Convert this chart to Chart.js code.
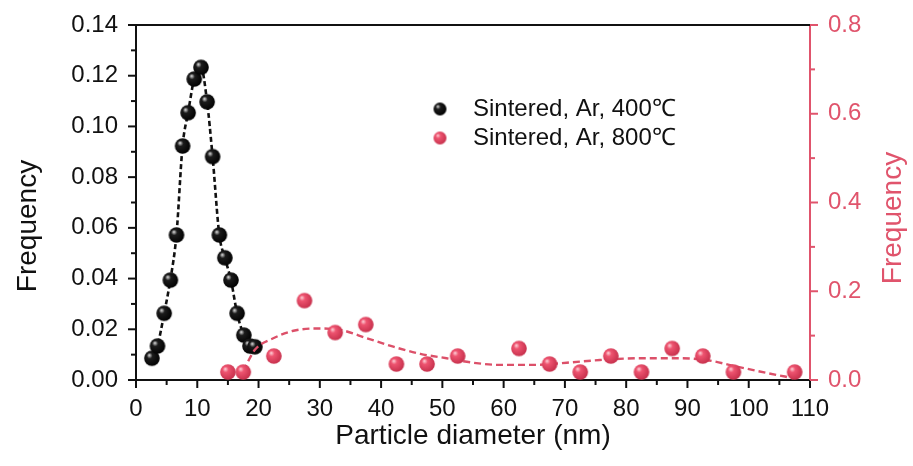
<!DOCTYPE html>
<html>
<head>
<meta charset="utf-8">
<script src="https://cdn.jsdelivr.net/npm/chart.js@4.4.0/dist/chart.umd.min.js"></script>
<style>
html, body { margin: 0; padding: 0; background: #fff; }
#wrap { width: 913px; height: 466px; position: relative; }
</style>
</head>
<body>
<div id="wrap"><canvas id="chart"></canvas></div>
<script>
// particle size distribution, sintered in Ar at 400 C (left axis)
const diam400 = [2.6, 3.5, 4.6, 5.6, 6.6, 7.6, 8.5, 9.5, 10.6, 11.6, 12.5, 13.6, 14.5, 15.5, 16.5, 17.6, 18.6, 19.4];
const freq400 = [0.0086, 0.0134, 0.0263, 0.0394, 0.0572, 0.0923, 0.1054, 0.1187, 0.1233, 0.1097, 0.0881, 0.0572, 0.0482, 0.0394, 0.0263, 0.0177, 0.0134, 0.0131];

// sintered in Ar at 800 C (right axis)
const diam800 = [15, 17.5, 22.5, 27.5, 32.5, 37.5, 42.5, 47.5, 52.5, 62.5, 67.5, 72.5, 77.5, 82.5, 87.5, 92.5, 97.5, 107.5];
const freq800 = [0.018, 0.018, 0.054, 0.179, 0.107, 0.125, 0.036, 0.036, 0.054, 0.071, 0.036, 0.018, 0.054, 0.018, 0.071, 0.054, 0.018, 0.018];

// dashed fit curve of the 800 C data
const fitDiam800 = [17.5, 19.4, 22.4, 25.7, 29.5, 33.3, 37.7, 42, 46.4, 50.7, 55, 59.4, 64.8, 70.3, 75.7, 82.3, 88.8, 93.1, 97.5, 102.9, 107.3];
const fitFreq800 = [0.02, 0.068, 0.094, 0.111, 0.116, 0.113, 0.094, 0.075, 0.059, 0.049, 0.039, 0.034, 0.034, 0.039, 0.045, 0.049, 0.049, 0.045, 0.032, 0.016, 0.004];

const seriesNames = ['Sintered, Ar, 400\u2103', 'Sintered, Ar, 800\u2103'];
const yTitle = 'Frequency';
const xTitle = 'Particle diameter (nm)';

const RED = '#e0546c';
const FONT = "'Liberation Sans', Arial, sans-serif";

// shaded ball marker
function sphere(r, light, base, dark){
    const c = document.createElement('canvas');
    const s = Math.ceil(r * 2) + 2;
    c.width = c.height = s;
    const g = c.getContext('2d');
    const m = s / 2;
    const grad = g.createRadialGradient(m - r * 0.35, m - r * 0.4, 0, m - r * 0.15, m - r * 0.15, r * 1.25);
    grad.addColorStop(0, light);
    grad.addColorStop(0.3, base);
    grad.addColorStop(1, dark);
    g.fillStyle = grad;
    g.beginPath();
    g.arc(m, m, r, 0, Math.PI * 2);
    g.fill();
    return c;
}

const ballBlack = sphere(7.8, '#e6e6e6', '#1c1c1c', '#000');
const ballRed = sphere(7.8, '#ffd6dc', '#ee5470', '#c42e4a');
const keyBlack = sphere(6.5, '#e6e6e6', '#1c1c1c', '#000');
const keyRed = sphere(6.5, '#ffd6dc', '#ee5470', '#c42e4a');

const toXY = (xs, ys) => xs.map((x, i) => ({x: x, y: ys[i]}));
const noTick = 'rgba(0,0,0,0)';

// top frame, tick marks, y titles and the inside legend
const extras = {
    id: 'extras',
    afterDraw(chart){
        const c = chart.ctx, a = chart.chartArea;
        const sx = chart.scales.x, sy = chart.scales.y, sy2 = chart.scales.y2;
        const len = i => i % 2 === 0 ? 8 : 5;
        c.save();
        c.lineWidth = 2;
        c.strokeStyle = '#111';
        c.beginPath();
        c.moveTo(a.left - 1, a.top);
        c.lineTo(a.right, a.top);
        c.stroke();

        sx.ticks.forEach((t, i) => {
            const px = sx.getPixelForValue(t.value);
            c.beginPath(); c.moveTo(px, a.bottom); c.lineTo(px, a.bottom + len(i)); c.stroke();
        });
        sy.ticks.forEach((t, i) => {
            const py = sy.getPixelForValue(t.value);
            c.beginPath(); c.moveTo(a.left, py); c.lineTo(a.left - len(i), py); c.stroke();
        });
        c.strokeStyle = RED;
        sy2.ticks.forEach((t, i) => {
            const py = sy2.getPixelForValue(t.value);
            c.beginPath(); c.moveTo(a.right, py); c.lineTo(a.right + len(i), py); c.stroke();
        });

        // axis titles (both read bottom to top)
        c.font = '28px ' + FONT;
        c.textAlign = 'center';
        c.textBaseline = 'middle';
        c.fillStyle = '#111';
        c.save(); c.translate(28, 226); c.rotate(-Math.PI / 2); c.fillText(yTitle, 0, 0); c.restore();
        c.fillStyle = RED;
        c.save(); c.translate(893, 218); c.rotate(-Math.PI / 2); c.fillText(yTitle, 0, 0); c.restore();

        // legend
        const lx = a.left + 304, ly = a.top + 84;
        c.font = '24px ' + FONT;
        c.textAlign = 'left';
        c.fillStyle = '#111';
        [keyBlack, keyRed].forEach((img, i) => {
            const y = ly + i * 29;
            c.drawImage(img, lx - img.width / 2, y - img.height / 2);
            c.fillText(seriesNames[i], lx + 33, y);
        });
        c.restore();
    }
};

new Chart(document.getElementById('chart'), {
    type: 'scatter',
    data: {
        datasets: [
            {
                label: seriesNames[1],
                data: toXY(diam800, freq800),
                yAxisID: 'y2',
                pointStyle: ballRed,
                showLine: false,
                order: 0
            },
            {
                label: 'fit 800',
                data: toXY(fitDiam800, fitFreq800),
                yAxisID: 'y2',
                showLine: true,
                pointRadius: 0,
                borderColor: '#dc5069',
                borderWidth: 2.4,
                borderDash: [7, 4],
                cubicInterpolationMode: 'monotone',
                order: 1
            },
            {
                label: seriesNames[0],
                data: toXY(diam400, freq400),
                yAxisID: 'y',
                pointStyle: ballBlack,
                showLine: true,
                borderColor: '#111',
                borderWidth: 2.6,
                borderDash: [5, 3],
                cubicInterpolationMode: 'monotone',
                order: 2
            }
        ]
    },
    options: {
        responsive: true,
        maintainAspectRatio: false,
        animation: false,
        layout: { padding: { top: 25, left: 0, right: 0, bottom: 0 } },
        plugins: { legend: { display: false }, tooltip: { enabled: false } },
        scales: {
            x: {
                type: 'linear', min: 0, max: 110,
                afterFit: s => { s.height = 86; },
                ticks: {
                    stepSize: 5, autoSkip: false, maxRotation: 0, padding: 7,
                    color: '#111', font: { family: FONT, size: 24 },
                    callback: (v, i) => i % 2 === 0 ? v : ''
                },
                grid: { drawOnChartArea: false, tickLength: 8, lineWidth: 2, tickColor: noTick },
                border: { color: '#111', width: 2 },
                title: {
                    display: true, text: xTitle, color: '#111',
                    font: { family: FONT, size: 28 }, padding: { top: 0, bottom: 13 }
                }
            },
            y: {
                position: 'left', min: 0, max: 0.14,
                afterFit: s => { s.width = 136; },
                ticks: {
                    stepSize: 0.01, autoSkip: false, padding: 10,
                    color: '#111', font: { family: FONT, size: 24 },
                    callback: (v, i) => i % 2 === 0 ? v.toFixed(2) : ''
                },
                grid: { drawOnChartArea: false, tickLength: 8, lineWidth: 2, tickColor: noTick },
                border: { color: '#111', width: 2 }
            },
            y2: {
                position: 'right', min: 0, max: 0.8,
                afterFit: s => { s.width = 103; },
                ticks: {
                    stepSize: 0.1, autoSkip: false, padding: 10,
                    color: RED, font: { family: FONT, size: 24 },
                    callback: (v, i) => i % 2 === 0 ? v.toFixed(1) : ''
                },
                grid: { drawOnChartArea: false, tickLength: 8, lineWidth: 2, tickColor: noTick },
                border: { color: RED, width: 2 }
            }
        }
    },
    plugins: [extras]
});
</script>
</body>
</html>
